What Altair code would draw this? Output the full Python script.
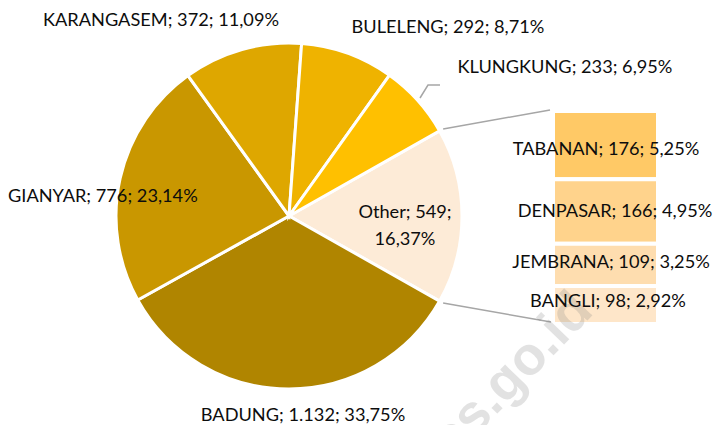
import math
import altair as alt
import pandas as pd

# ---- data ----
pie_names = ["BADUNG", "GIANYAR", "KARANGASEM", "BULELENG", "KLUNGKUNG"]
pie_values = [1132, 776, 372, 292, 233]
pie_colors = ["#B08500", "#C99700", "#DEA700", "#EFB300", "#FFC000"]

bar_names = ["TABANAN", "DENPASAR", "JEMBRANA", "BANGLI"]
bar_values = [176, 166, 109, 98]
bar_colors = ["#FFC966", "#FFD38C", "#FEDDAF", "#FEE6C9"]

other_name = "Other"
other_color = "#FDEBD7"
watermark = "bps.go.id"

# ---- helpers ----
other_value = sum(bar_values)
total = sum(pie_values) + other_value


def fmt_int(v):
    return f"{v:,}".replace(",", ".")


def fmt_pct(v):
    return f"{v / total * 100:.2f}".replace(".", ",") + "%"


def label(name, v):
    return f"{name}; {fmt_int(v)}; {fmt_pct(v)}"


# ---- layout (view coordinates = page - 8) ----
W, H = 707, 417
CX, CY, R = 281, 208, 173
a0 = math.pi / 2 - math.pi * other_value / total  # start angle of "Other" slice
a1 = a0 + 2 * math.pi * other_value / total
BAR_X0, BAR_X1 = 545, 650
BAR_Y0, BAR_Y1 = 103, 316

px = alt.Scale(domain=[0, W], range=[0, W], nice=False, zero=False)
py = alt.Scale(domain=[0, H], range=[0, H], nice=False, zero=False)

# pie
pie_df = pd.DataFrame({
    "name": [other_name] + pie_names,
    "value": [other_value] + pie_values,
    "idx": list(range(len(pie_names) + 1)),
})
pie = alt.Chart(pie_df).mark_arc(outerRadius=R, stroke="white", strokeWidth=3).encode(
    theta=alt.Theta("value:Q", stack=True,
                    scale=alt.Scale(range=[a0, a0 + 2 * math.pi])),
    order=alt.Order("idx:Q", sort="ascending"),
    color=alt.Color("name:N", legend=None,
                    scale=alt.Scale(domain=[other_name] + pie_names,
                                    range=[other_color] + pie_colors)),
    x=alt.value(CX), y=alt.value(CY),
)

# stacked bar (breakdown of "Other")
starts = [sum(bar_values[:i]) for i in range(len(bar_values))]
ends = [s + v for s, v in zip(starts, bar_values)]
bar_df = pd.DataFrame({"name": bar_names, "start": starts, "end": ends})
bars = alt.Chart(bar_df).mark_rect(stroke="white", strokeWidth=4).encode(
    y=alt.Y("start:Q", axis=None,
            scale=alt.Scale(domain=[0, other_value], range=[BAR_Y0, BAR_Y1],
                            nice=False, zero=False)),
    y2="end:Q",
    color=alt.Color("name:N", legend=None,
                    scale=alt.Scale(domain=bar_names, range=bar_colors)),
    x=alt.value(BAR_X0), x2=alt.value(BAR_X1),
)

# connector lines
Rc = R + 4
conn_df = pd.DataFrame({
    "x": [CX + Rc * math.sin(a0), CX + Rc * math.sin(a1)],
    "y": [CY - Rc * math.cos(a0), CY - Rc * math.cos(a1)],
    "x2": [BAR_X0 - 3, BAR_X0 - 2],
    "y2": [BAR_Y0 - 1, BAR_Y1 - 2],
})
conn = alt.Chart(conn_df).mark_rule(color="#A6A6A6", strokeWidth=1.5).encode(
    x=alt.X("x:Q", scale=px, axis=None), y=alt.Y("y:Q", scale=py, axis=None),
    x2="x2:Q", y2="y2:Q",
)

# leader line for KLUNGKUNG label
leader_df = pd.DataFrame({"x": [412, 420, 432], "y": [90, 77, 77], "o": [0, 1, 2]})
leader = alt.Chart(leader_df).mark_line(color="#A6A6A6", strokeWidth=1.5).encode(
    x=alt.X("x:Q", scale=px, axis=None), y=alt.Y("y:Q", scale=py, axis=None),
    order="o:Q",
)

# labels
vals = dict(zip(pie_names + bar_names, pie_values + bar_values))
pos = {
    "KARANGASEM": (153, 13),
    "BULELENG": (440, 20),
    "KLUNGKUNG": (557, 60),
    "BADUNG": (295, 408),
    "TABANAN": (598, 142),
    "DENPASAR": (607, 204),
    "JEMBRANA": (603, 255),
    "BANGLI": (600, 294),
}
lab_df = pd.DataFrame({
    "text": [label(n, vals[n]) for n in pos],
    "x": [p[0] for p in pos.values()],
    "y": [p[1] for p in pos.values()],
})
FONT = "Lato"
FS = 18.2
TXT = "#0d0d0d"
labels_c = alt.Chart(lab_df).mark_text(font=FONT, fontSize=FS, color=TXT,
                                       align="center", baseline="middle").encode(
    x=alt.X("x:Q", scale=px, axis=None), y=alt.Y("y:Q", scale=py, axis=None),
    text="text:N",
)
gi_df = pd.DataFrame({"text": [label("GIANYAR", vals["GIANYAR"])], "x": [0], "y": [189]})
labels_l = alt.Chart(gi_df).mark_text(font=FONT, fontSize=FS, color=TXT,
                                      align="left", baseline="middle").encode(
    x=alt.X("x:Q", scale=px, axis=None), y=alt.Y("y:Q", scale=py, axis=None),
    text="text:N",
)
oth_df = pd.DataFrame({
    "text": [f"{other_name}; {fmt_int(other_value)};\n{fmt_pct(other_value)}"],
    "x": [397], "y": [205],
})
labels_o = alt.Chart(oth_df).mark_text(font=FONT, fontSize=FS, color=TXT,
                                       align="center", baseline="middle",
                                       lineBreak="\n", lineHeight=27).encode(
    x=alt.X("x:Q", scale=px, axis=None), y=alt.Y("y:Q", scale=py, axis=None),
    text="text:N",
)

wm_df = pd.DataFrame({"text": [watermark]})
wm = alt.Chart(wm_df).mark_text(font="Liberation Sans", fontWeight="bold", fontSize=54,
                                color="#7F7F7F", opacity=0.22, angle=314,
                                align="center", baseline="middle").encode(
    x=alt.value(492), y=alt.value(380), text="text:N",
)

chart = alt.layer(pie, bars, conn, leader, wm, labels_c, labels_l, labels_o).resolve_scale(
    x="independent", y="independent", color="independent"
).properties(
    width=W, height=H, autosize="none", padding=0
).configure_view(stroke=None)

chart.save("out.html", embed_options={"renderer": "svg", "actions": False})
